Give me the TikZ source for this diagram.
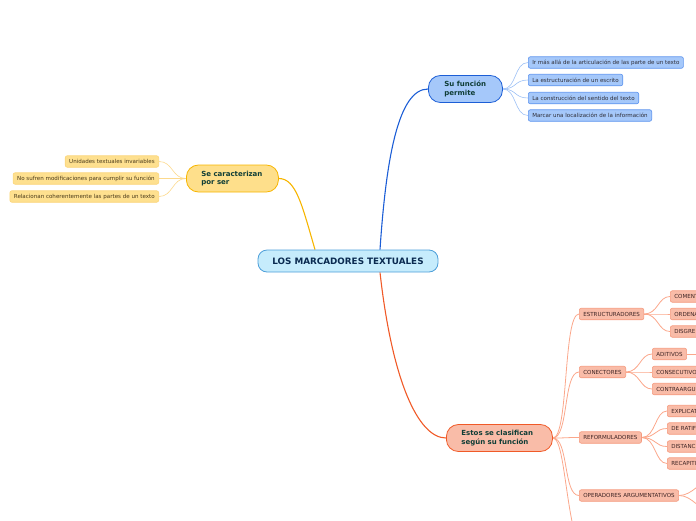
\documentclass[tikz,border=0pt]{standalone}
\usepackage{fontspec}
\setmainfont{DejaVu Sans}
\usetikzlibrary{backgrounds}
\definecolor{rootfill}{HTML}{C6ECFC}
\definecolor{rootline}{HTML}{4D9FD9}
\definecolor{roottext}{HTML}{0A2A50}
\definecolor{maintext}{HTML}{0F3D36}
\definecolor{bfill}{HTML}{A5C8FA}
\definecolor{bline}{HTML}{1C5ED6}
\definecolor{bleafline}{HTML}{5E94EE}
\definecolor{bconn}{HTML}{9CC0F5}
\definecolor{yfill}{HTML}{FEDF8B}
\definecolor{yline}{HTML}{F7B500}
\definecolor{yleaffill}{HTML}{FEE08F}
\definecolor{yleafline}{HTML}{FBD57A}
\definecolor{yconn}{HTML}{FCD98C}
\definecolor{ofill}{HTML}{F9BCA8}
\definecolor{oline}{HTML}{F05A28}
\definecolor{oleafline}{HTML}{F59A7E}
\definecolor{oconn}{HTML}{FBA78B}
\definecolor{leaftext}{HTML}{2E2E38}
\definecolor{otext}{HTML}{3D2424}
\definecolor{ytext}{HTML}{4A3A1A}
\tikzset{
  rootnode/.style={draw=rootline, fill=rootfill, text=roottext, line width=0.8pt,
    rounded corners=9pt, minimum width=180pt, minimum height=22pt, inner sep=0pt,
    font=\fontsize{8.8}{10}\selectfont\bfseries},
  mainnode/.style={rounded corners=12pt, line width=0.8pt, inner ysep=0pt,
    minimum height=27pt, align=left, text=maintext,
    font=\fontsize{7}{8.5}\selectfont\bfseries, anchor=west},
  leaf/.style={rounded corners=2pt, line width=0.6pt, inner xsep=4pt, inner ysep=0pt,
    minimum height=11.5pt, font=\fontsize{5.55}{6}\selectfont},
  bleaf/.style={leaf, draw=bleafline, fill=bfill, text=leaftext, anchor=west},
  yleaf/.style={leaf, draw=yleafline, fill=yleaffill, text=ytext, anchor=east},
  oleaf/.style={leaf, draw=oleafline, fill=ofill, text=otext, anchor=west},
  ocut/.style={oleaf, text width=40pt, align=left},
  bc/.style={draw=bconn, line width=0.6pt},
  yc/.style={draw=yconn, line width=0.6pt},
  oc/.style={draw=oconn, line width=0.8pt},
}
\begin{document}
\begin{tikzpicture}[x=1pt, y=-1pt]
\useasboundingbox (0,0) rectangle (696,520);
% root
\node[rootnode] (root) at (348,261) {LOS MARCADORES TEXTUALES};
% main nodes
\node[mainnode, draw=bline, fill=bfill, minimum width=74pt, text width=42pt, inner xsep=16pt] (fun) at (428,89) {Su función\\permite};
\node[mainnode, draw=yline, fill=yfill, minimum width=92pt, text width=62pt, inner xsep=15pt] (car) at (186,178.5) {Se caracterizan\\por ser};
\node[mainnode, draw=oline, fill=ofill, minimum width=106pt, text width=76pt, inner xsep=15pt] (cla) at (446,438) {Estos se clasifican\\según su función};
% blue leaves
\node[bleaf] (b1) at (528,62.5) {Ir más allá de la articulación de las parte de un texto};
\node[bleaf] (b2) at (528,80) {La estructuración de un escrito};
\node[bleaf] (b3) at (528,98) {La construcción del sentido del texto};
\node[bleaf] (b4) at (528,115.5) {Marcar una localización de la información};
% yellow leaves
\node[yleaf] (y1) at (159,161.5) {Unidades textuales invariables};
\node[yleaf] (y2) at (159,178.5) {No sufren modificaciones para cumplir su función};
\node[yleaf] (y3) at (159,196.5) {Relacionan coherentemente las partes de un texto};
% orange level 2
\node[oleaf] (est) at (579,314) {ESTRUCTURADORES};
\node[oleaf] (con) at (579,372) {CONECTORES};
\node[oleaf] (ref) at (579,437.5) {REFORMULADORES};
\node[oleaf] (ope) at (579,495.5) {OPERADORES ARGUMENTATIVOS};
\coordinate (fifth) at (600,570);
% orange level 3
\node[ocut] (e1) at (670,296.5) {COMENT};
\node[ocut] (e2) at (670,314) {ORDENA};
\node[ocut] (e3) at (670,331.5) {DISGRE};
\node[oleaf] (c1) at (652,354) {ADITIVOS};
\node[ocut, text width=60pt] (c2) at (652,372) {CONSECUTIVO};
\node[ocut, text width=60pt] (c3) at (652,389) {CONTRAARGU};
\node[ocut] (r1) at (667,411) {EXPLICAT};
\node[ocut] (r2) at (667,428.5) {DE RATIF};
\node[ocut] (r3) at (667,446.5) {DISTANC};
\node[ocut] (r4) at (667,463.5) {RECAPITU};
\coordinate (c1x) at (720,354);
\coordinate (o1) at (712,480);
\coordinate (o2) at (712,512);
\begin{scope}[on background layer]
% main connectors
\draw[draw=bline, line width=1.1pt] ([xshift=32pt]root.north) .. controls (386,160) and (398,89) .. (fun.west);
\draw[draw=yline, line width=1.1pt] ([xshift=-33pt]root.north) .. controls (302,205) and (296,178.5) .. (car.east);
\draw[draw=oline, line width=1.1pt] ([xshift=32pt]root.south) .. controls (392,380) and (418,438) .. (cla.west);
% blue
\foreach \n in {b1,b2,b3,b4}
  \draw[bc] (fun.east) .. controls +(14,0) and +(-14,0) .. (\n.west);
% yellow
\foreach \n in {y1,y2,y3}
  \draw[yc] (car.west) .. controls +(-14,0) and +(14,0) .. (\n.east);
% orange level 2
\foreach \n in {est,con,ref,ope}
  \draw[oc] (cla.east) .. controls +(16,0) and +(-16,0) .. (\n.west);
\draw[oc] (cla.east) .. controls +(16,0) and +(-36,0) .. (fifth);
% orange level 3
\foreach \n in {e1,e2,e3}
  \draw[oc] (est.east) .. controls +(14,0) and +(-12,0) .. (\n.west);
\foreach \n in {c1,c2,c3}
  \draw[oc] (con.east) .. controls +(14,0) and +(-12,0) .. (\n.west);
\foreach \n in {r1,r2,r3,r4}
  \draw[oc] (ref.east) .. controls +(14,0) and +(-12,0) .. (\n.west);
\draw[oc] (c1.east) -- (c1x);
\draw[oc] (ope.east) .. controls +(14,0) and +(-12,0) .. (o1);
\draw[oc] (ope.east) .. controls +(14,0) and +(-12,0) .. (o2);
\end{scope}
\end{tikzpicture}
\end{document}
